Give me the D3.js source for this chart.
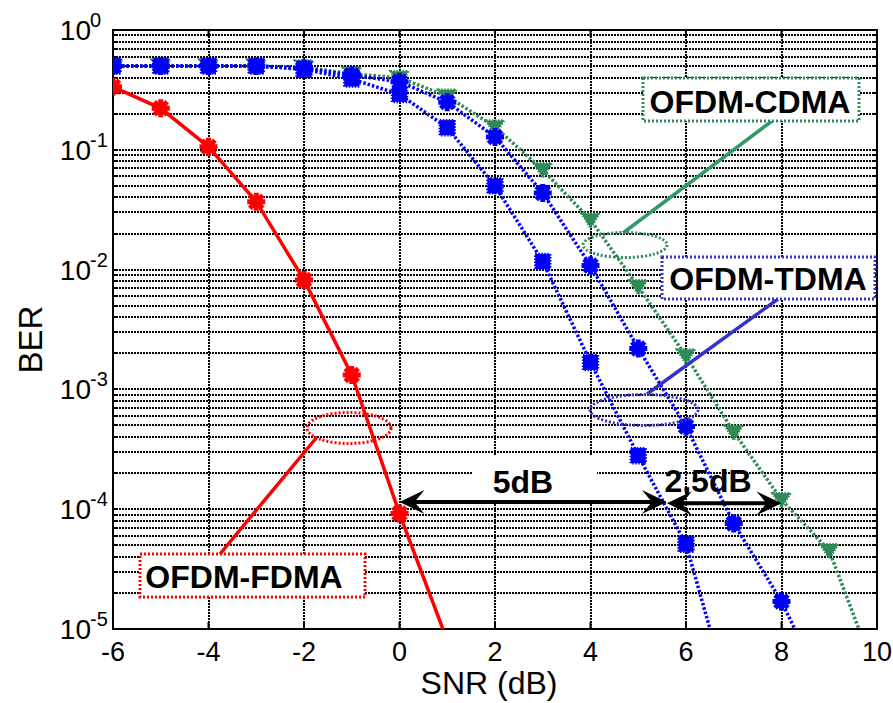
<!DOCTYPE html>
<html>
<head>
<meta charset="utf-8">
<script src="https://cdn.jsdelivr.net/npm/d3@7"></script>
<style>
  body { margin: 0; background: #fff; }
  text { font-family: Arial, "Liberation Sans", Helvetica, sans-serif; }
</style>
</head>
<body>
<div id="chart"></div>
<script>
// BER curves (SNR in dB)
const snrFdma = [-6, -5, -4, -3, -2, -1, 0, 1];
const berFdma = [0.336, 0.222, 0.106, 0.0369, 0.0082, 0.00132, 9.2e-5, 8e-6];

const snrTdmaSq = [-6, -5, -4, -3, -2, -1, 0, 1, 2, 3, 4, 5, 6, 7];
const berTdmaSq = [0.5, 0.5, 0.5, 0.5, 0.47, 0.39, 0.29, 0.153, 0.05, 0.0117, 0.00168, 2.8e-4, 5.1e-5, 2e-6];

const snrTdmaSt = [-6, -5, -4, -3, -2, -1, 0, 1, 2, 3, 4, 5, 6, 7, 8, 9];
const berTdmaSt = [0.5, 0.5, 0.5, 0.5, 0.48, 0.42, 0.37, 0.25, 0.128, 0.0436, 0.0108, 0.0022, 4.9e-4, 7.6e-5, 1.7e-5, 2.5e-6];

const snrCdma = [-6, -5, -4, -3, -2, -1, 0, 1, 2, 3, 4, 5, 6, 7, 8, 9, 10];
const berCdma = [0.5, 0.5, 0.5, 0.5, 0.49, 0.43, 0.4, 0.28, 0.155, 0.068, 0.026, 0.0072, 0.0019, 4.4e-4, 1.2e-4, 4.5e-5, 4e-6];

const xTicks = [-6, -4, -2, 0, 2, 4, 6, 8, 10];
const yExponents = [0, -1, -2, -3, -4, -5];

const W = 893, H = 703;
const M = { left: 113, right: 877, top: 30, bottom: 629 };

const RED = '#ff0000', BLUE = '#0000ff', GREEN = '#2e8b57';

const svg = d3.select('#chart').append('svg')
    .attr('width', W)
    .attr('height', H);

const x = d3.scaleLinear().domain([-6, 10]).range([M.left, M.right]);
const y = d3.scaleLog().domain([1e-5, 1]).range([M.bottom, M.top]);

svg.append('defs').append('clipPath').attr('id', 'plot')
    .append('rect')
    .attr('x', M.left).attr('y', M.top)
    .attr('width', M.right - M.left).attr('height', M.bottom - M.top);

// grid (major + minor on y, major on x)
const minorY = [];
yExponents.forEach(e => {
    if (e === 0) return;
    for (let k = 1; k <= 9; k++) minorY.push(k * Math.pow(10, e));
});
minorY.push(1);

const grid = svg.append('g')
    .attr('stroke', '#000')
    .attr('stroke-width', 2)
    .attr('stroke-dasharray', '2,1');

grid.selectAll('.gy').data(minorY).join('line')
    .attr('x1', M.left).attr('x2', M.right)
    .attr('y1', d => Math.round(y(d))).attr('y2', d => Math.round(y(d)));

grid.selectAll('.gx').data(xTicks).join('line')
    .attr('x1', d => Math.round(x(d))).attr('x2', d => Math.round(x(d)))
    .attr('y1', M.top).attr('y2', M.bottom);

// ticks (inward, both sides)
const ticks = svg.append('g').attr('stroke', '#000').attr('stroke-width', 2);
ticks.selectAll('.tb').data(xTicks).join('line')
    .attr('x1', d => x(d)).attr('x2', d => x(d))
    .attr('y1', M.bottom).attr('y2', M.bottom - 7);
ticks.selectAll('.tt').data(xTicks).join('line')
    .attr('x1', d => x(d)).attr('x2', d => x(d))
    .attr('y1', M.top).attr('y2', M.top + 7);
ticks.selectAll('.tl').data(minorY).join('line')
    .attr('x1', M.left).attr('x2', M.left + 5)
    .attr('y1', d => Math.round(y(d))).attr('y2', d => Math.round(y(d)));
ticks.selectAll('.tr').data(minorY).join('line')
    .attr('x1', M.right).attr('x2', M.right - 5)
    .attr('y1', d => Math.round(y(d))).attr('y2', d => Math.round(y(d)));

// axis box
svg.append('rect')
    .attr('x', M.left).attr('y', M.top)
    .attr('width', M.right - M.left).attr('height', M.bottom - M.top)
    .attr('fill', 'none').attr('stroke', '#000').attr('stroke-width', 2);

// tick labels
svg.append('g').selectAll('text').data(xTicks).join('text')
    .attr('x', d => x(d))
    .attr('y', 661)
    .attr('text-anchor', 'middle')
    .attr('font-size', 27)
    .text(d => d);

const yl = svg.append('g').selectAll('g').data(yExponents).join('g')
    .attr('transform', d => `translate(0, ${y(Math.pow(10, d))})`);
yl.append('text')
    .attr('x', 91).attr('y', 10)
    .attr('text-anchor', 'end')
    .attr('font-size', 28)
    .text('10');
yl.append('text')
    .attr('x', 90).attr('y', -3)
    .attr('font-size', 20)
    .text(d => d);

// axis labels
svg.append('text')
    .attr('x', (M.left + M.right) / 2 - 6).attr('y', 694)
    .attr('text-anchor', 'middle')
    .attr('font-size', 32)
    .text('SNR (dB)');
svg.append('text')
    .attr('transform', `translate(42, ${(M.top + M.bottom) / 2 + 10}) rotate(-90)`)
    .attr('text-anchor', 'middle')
    .attr('font-size', 33)
    .text('BER');

// series
const plot = svg.append('g').attr('clip-path', 'url(#plot)');
const line = d3.line().x(d => x(d[0])).y(d => y(d[1]));

function asterisk(r) {
    const a = r * 0.72;
    return `M${-r},0L${r},0M0,${-r}L0,${r}M${-a},${-a}L${a},${a}M${-a},${a}L${a},${-a}`;
}

function drawSeries(xs, ys, color, dashed, marker) {
    const pts = xs.map((v, i) => [v, ys[i]]);
    plot.append('path')
        .datum(pts)
        .attr('d', line)
        .attr('fill', 'none')
        .attr('stroke', color)
        .attr('stroke-width', 3.5)
        .attr('stroke-dasharray', dashed ? '2.5,2' : null);
    const g = plot.append('g').selectAll('g').data(pts).join('g')
        .attr('transform', d => `translate(${x(d[0])}, ${y(d[1])})`);
    if (marker === 'star') {
        g.append('path').attr('d', asterisk(9))
            .attr('stroke', color).attr('stroke-width', 5).attr('fill', 'none');
        g.append('circle').attr('r', 5.5).attr('fill', color);
    } else if (marker === 'square') {
        g.append('rect').attr('x', -7.5).attr('y', -7.5).attr('width', 15).attr('height', 15)
            .attr('fill', color).attr('stroke', color).attr('stroke-width', 2.5)
            .attr('stroke-dasharray', '1.5,1.5');
    } else if (marker === 'tri') {
        g.append('path').attr('d', 'M-9,-6.5L9,-6.5L0,8Z')
            .attr('fill', color).attr('stroke', color).attr('stroke-width', 2.5)
            .attr('stroke-dasharray', '1.5,1.5');
    }
}

drawSeries(snrCdma, berCdma, GREEN, true, 'tri');
drawSeries(snrTdmaSt, berTdmaSt, BLUE, true, 'star');
drawSeries(snrTdmaSq, berTdmaSq, BLUE, true, 'square');
drawSeries(snrFdma, berFdma, RED, false, 'star');

// annotations: labelled boxes with pointer and ellipse (figure pixel layout)
const notes = [
    { label: 'OFDM-CDMA', color: '#2e8b57', lineColor: '#339966',
      box: [643, 78, 216, 43], text: [750, 113], ptr: [772, 121, 623, 233], ell: [625, 245, 42, 12.5] },
    { label: 'OFDM-TDMA', color: '#3333cc', lineColor: '#3333cc',
      box: [662, 257, 213, 42], text: [768, 290], ptr: [778, 299, 647, 394], ell: [644, 410, 54, 15.5] },
    { label: 'OFDM-FDMA', color: '#ff0000', lineColor: '#ff0000',
      box: [140, 554, 225, 43], text: [244, 588], ptr: [220, 554, 317, 437], ell: [349, 428, 42, 15.5] }
];

const ann = svg.append('g');
notes.forEach(n => {
    ann.append('line')
        .attr('x1', n.ptr[0]).attr('y1', n.ptr[1]).attr('x2', n.ptr[2]).attr('y2', n.ptr[3])
        .attr('stroke', n.lineColor).attr('stroke-width', 3.5);
    ann.append('ellipse')
        .attr('cx', n.ell[0]).attr('cy', n.ell[1]).attr('rx', n.ell[2]).attr('ry', n.ell[3])
        .attr('fill', 'none').attr('stroke', n.color).attr('stroke-width', 3)
        .attr('stroke-dasharray', '2,2');
    ann.append('rect')
        .attr('x', n.box[0]).attr('y', n.box[1]).attr('width', n.box[2]).attr('height', n.box[3])
        .attr('fill', '#fff').attr('stroke', n.color).attr('stroke-width', 3)
        .attr('stroke-dasharray', '2,2');
    ann.append('text')
        .attr('x', n.text[0]).attr('y', n.text[1])
        .attr('text-anchor', 'middle')
        .attr('font-size', 32).attr('font-weight', 'bold')
        .text(n.label);
});

// gap arrows between curves at BER ~ 1e-4
ann.append('rect')
    .attr('x', 472).attr('y', 455).attr('width', 125).attr('height', 46)
    .attr('fill', '#fff');

function doubleArrow(x1, x2, yv) {
    const py = y(yv), p1 = x(x1), p2 = x(x2);
    ann.append('line')
        .attr('x1', p1 + 10).attr('x2', p2 - 10).attr('y1', py).attr('y2', py)
        .attr('stroke', '#000').attr('stroke-width', 4);
    const L = 25, Wd = 12;
    ann.append('path')
        .attr('d', `M${p1},${py}L${p1 + L},${py - Wd}L${p1 + L * 0.6},${py}L${p1 + L},${py + Wd}Z`)
        .attr('fill', '#000');
    ann.append('path')
        .attr('d', `M${p2},${py}L${p2 - L},${py - Wd}L${p2 - L * 0.6},${py}L${p2 - L},${py + Wd}Z`)
        .attr('fill', '#000');
}

doubleArrow(0, 5.6, 1.15e-4);
doubleArrow(5.6, 8, 1.12e-4);

ann.append('text')
    .attr('x', 523).attr('y', 493)
    .attr('text-anchor', 'middle')
    .attr('font-size', 32).attr('font-weight', 'bold')
    .text('5dB');
ann.append('text')
    .attr('x', 708).attr('y', 492)
    .attr('text-anchor', 'middle')
    .attr('font-size', 32).attr('font-weight', 'bold')
    .text('2,5dB');
</script>
</body>
</html>
